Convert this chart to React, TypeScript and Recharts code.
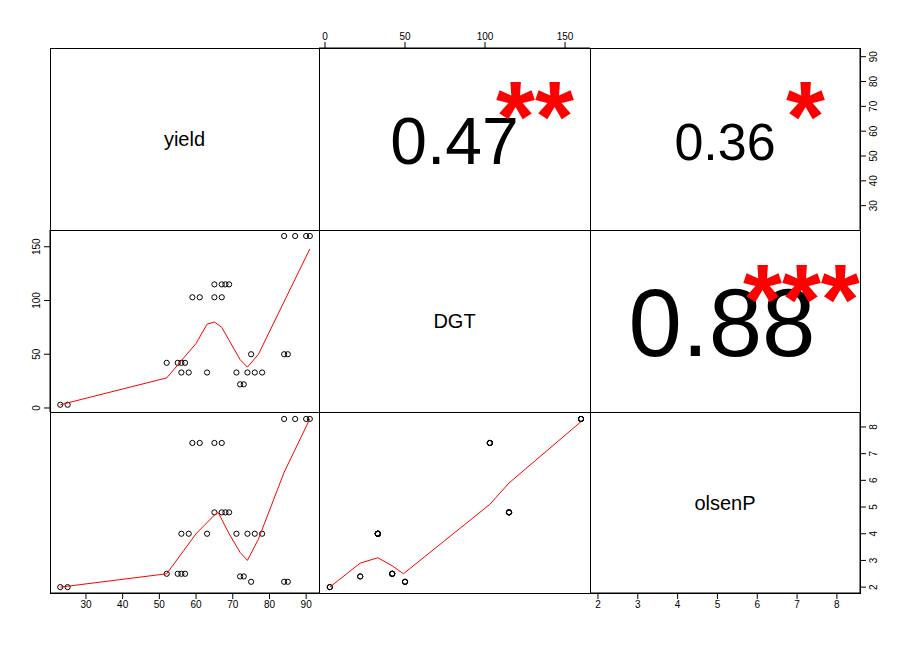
import { ScatterChart, Scatter, XAxis, YAxis } from "recharts";

const yieldV = [23, 25, 52, 55, 56, 57, 56, 58, 59, 61, 63, 65, 67, 68, 65, 67, 69, 71, 72, 73, 74, 75, 76, 78, 84, 85, 84, 87, 90, 91];
const dgtV = [3, 3, 42, 42, 42, 42, 33, 33, 103, 103, 33, 115, 115, 115, 103, 103, 115, 33, 22, 22, 33, 50, 33, 33, 50, 50, 160, 160, 160, 160];
const olsenV = [2, 2, 2.5, 2.5, 2.5, 2.5, 4, 4, 7.4, 7.4, 4, 4.8, 4.8, 4.8, 7.4, 7.4, 4.8, 4, 2.4, 2.4, 4, 2.2, 4, 4, 2.2, 2.2, 8.3, 8.3, 8.3, 8.3];

const smoothYD = [[23, 3], [52, 28], [60, 60], [63, 78], [65, 80], [67, 75], [72, 45], [74, 38], [77, 50], [91, 148]];
const smoothYP = [[23, 2], [52, 2.5], [60, 4], [65, 4.7], [66, 4.8], [69, 4], [72, 3.3], [74, 3], [77, 3.8], [84, 6.3], [91, 8.3]];
const smoothDP = [[3, 2], [22, 2.9], [33, 3.1], [42, 2.8], [49, 2.5], [103, 5.1], [115, 5.9], [160, 8.2]];

const yieldTicks = [30, 40, 50, 60, 70, 80, 90];
const dgtTicks = [0, 50, 100, 150];
const olsenTicks = [2, 3, 4, 5, 6, 7, 8];

const yieldDom: [number, number] = [20.2, 93.5];
const dgtDom: [number, number] = [-3.75, 165.6];
const olsenDom: [number, number] = [1.78, 8.56];
const olsenXDom: [number, number] = [1.8, 8.58];

const C = [50, 319, 590, 860];
const R = [48, 230, 412, 593];
const FONT = "'Liberation Sans', Arial, sans-serif";

const pts = (xs: number[], ys: number[]) => xs.map((x, i) => ({ x, y: ys[i] }));
const line = (a: number[][]) => a.map(([x, y]) => ({ x, y }));

const Ring = (p: any) => <circle cx={p.cx} cy={p.cy} r={2.6} fill="none" stroke="#000" strokeWidth={1} />;
const None = () => null;

const LeftTick = (p: any) => (
  <text transform={`translate(${p.x},${p.y}) rotate(-90)`} textAnchor="middle" dy={-2} fontSize={10} fontFamily={FONT}>{p.payload.value}</text>
);
const RightTick = (p: any) => (
  <text transform={`translate(${p.x},${p.y}) rotate(-90)`} textAnchor="middle" dy={9} fontSize={10} fontFamily={FONT}>{p.payload.value}</text>
);

const tickStyle = { fontSize: 10, fontFamily: FONT, fill: "#000" };

function Panel({ col, row, children, padL = 0, padR = 0, padT = 0, padB = 0 }: any) {
  const w = C[col + 1] - C[col];
  const h = R[row + 1] - R[row];
  return (
    <div style={{ position: "absolute", left: C[col] - padL, top: R[row] - padT }}>
      <ScatterChart width={w + padL + padR} height={h + padT + padB} margin={{ top: 0, right: 0, bottom: 0, left: 0 }}>
        {children}
      </ScatterChart>
    </div>
  );
}

function Label({ col, row, text, size, color = "#000", dx = 0, dy = 0 }: any) {
  return (
    <div style={{ position: "absolute", left: C[col], top: R[row], width: C[col + 1] - C[col], height: R[row + 1] - R[row], display: "flex", alignItems: "center", justifyContent: "center", fontFamily: FONT, fontSize: size, color, transform: `translate(${dx}px, ${dy}px)`, lineHeight: 1 }}>
      {text}
    </div>
  );
}

function Stars({ left, top, text, size }: any) {
  return (
    <div style={{ position: "absolute", left, top, fontFamily: FONT, fontSize: size, color: "#ff0000", lineHeight: 1, fontWeight: "bold", whiteSpace: "nowrap" }}>{text}</div>
  );
}

export default function App() {
  return (
    <div style={{ position: "absolute", left: 0, top: 0, width: 910, height: 645, background: "#fff", overflow: "hidden" }}>
      {/* row 2, col 1: yield vs DGT */}
      <Panel col={0} row={1} padL={40}>
        <XAxis type="number" dataKey="x" domain={yieldDom} hide />
        <YAxis type="number" dataKey="y" domain={dgtDom} ticks={dgtTicks} width={40} tick={<LeftTick />} tickSize={6} stroke="#000" interval={0} />
        <Scatter data={pts(yieldV, dgtV)} shape={<Ring />} isAnimationActive={false} />
        <Scatter data={line(smoothYD)} shape={<None />} line={{ stroke: "#ff0000", strokeWidth: 1 }} isAnimationActive={false} />
      </Panel>
      {/* row 3, col 1: yield vs olsenP */}
      <Panel col={0} row={2} padB={30}>
        <XAxis type="number" dataKey="x" domain={yieldDom} ticks={yieldTicks} height={30} tick={tickStyle} stroke="#000" interval={0} />
        <YAxis type="number" dataKey="y" domain={olsenDom} hide />
        <Scatter data={pts(yieldV, olsenV)} shape={<Ring />} isAnimationActive={false} />
        <Scatter data={line(smoothYP)} shape={<None />} line={{ stroke: "#ff0000", strokeWidth: 1 }} isAnimationActive={false} />
      </Panel>
      {/* row 3, col 2: DGT vs olsenP */}
      <Panel col={1} row={2}>
        <XAxis type="number" dataKey="x" domain={dgtDom} hide />
        <YAxis type="number" dataKey="y" domain={olsenDom} hide />
        <Scatter data={pts(dgtV, olsenV)} shape={<Ring />} isAnimationActive={false} />
        <Scatter data={line(smoothDP)} shape={<None />} line={{ stroke: "#ff0000", strokeWidth: 1 }} isAnimationActive={false} />
      </Panel>
      {/* top axis DGT */}
      <Panel col={1} row={0} padT={30}>
        <XAxis type="number" dataKey="x" orientation="top" domain={dgtDom} ticks={dgtTicks} height={30} tick={tickStyle} stroke="#000" interval={0} allowDataOverflow />
        <YAxis type="number" dataKey="y" domain={[0, 1]} hide allowDataOverflow />
        <Scatter data={[{ x: 50, y: 0.5 }]} shape={<None />} isAnimationActive={false} />
      </Panel>
      {/* right axis yield */}
      <Panel col={2} row={0} padR={30}>
        <XAxis type="number" dataKey="x" domain={[0, 1]} hide allowDataOverflow />
        <YAxis type="number" dataKey="y" orientation="right" domain={yieldDom} ticks={yieldTicks} width={30} tick={<RightTick />} stroke="#000" interval={0} allowDataOverflow />
        <Scatter data={[{ x: 0.5, y: 50 }]} shape={<None />} isAnimationActive={false} />
      </Panel>
      {/* olsenP axes */}
      <Panel col={2} row={2} padR={30} padB={30}>
        <XAxis type="number" dataKey="x" domain={olsenXDom} ticks={olsenTicks} height={30} tick={tickStyle} stroke="#000" interval={0} allowDataOverflow />
        <YAxis type="number" dataKey="y" orientation="right" domain={olsenDom} ticks={olsenTicks} width={30} tick={<RightTick />} stroke="#000" interval={0} allowDataOverflow />
        <Scatter data={[{ x: 5, y: 5 }]} shape={<None />} isAnimationActive={false} />
      </Panel>

      <Label col={0} row={0} text="yield" size={20} />
      <Label col={1} row={1} text="DGT" size={20} />
      <Label col={2} row={2} text="olsenP" size={20} />
      <Label col={1} row={0} text="0.47" size={66} dy={2} />
      <Label col={2} row={0} text="0.36" size={52} dy={3} />
      <Label col={2} row={1} text="0.88" size={96} dx={-3} dy={2} />
      <Stars left={496} top={66} text="**" size={100} />
      <Stars left={786} top={66} text="*" size={100} />
      <Stars left={743} top={249} text="***" size={100} />

      {[0, 1, 2].map((c) => [0, 1, 2].map((r) => (
        <div key={`${c}-${r}`} style={{ position: "absolute", left: C[c], top: R[r], width: C[c + 1] - C[c] - 1, height: R[r + 1] - R[r] - 1, border: "1px solid #000", boxSizing: "content-box", pointerEvents: "none" }} />
      )))}
    </div>
  );
}
